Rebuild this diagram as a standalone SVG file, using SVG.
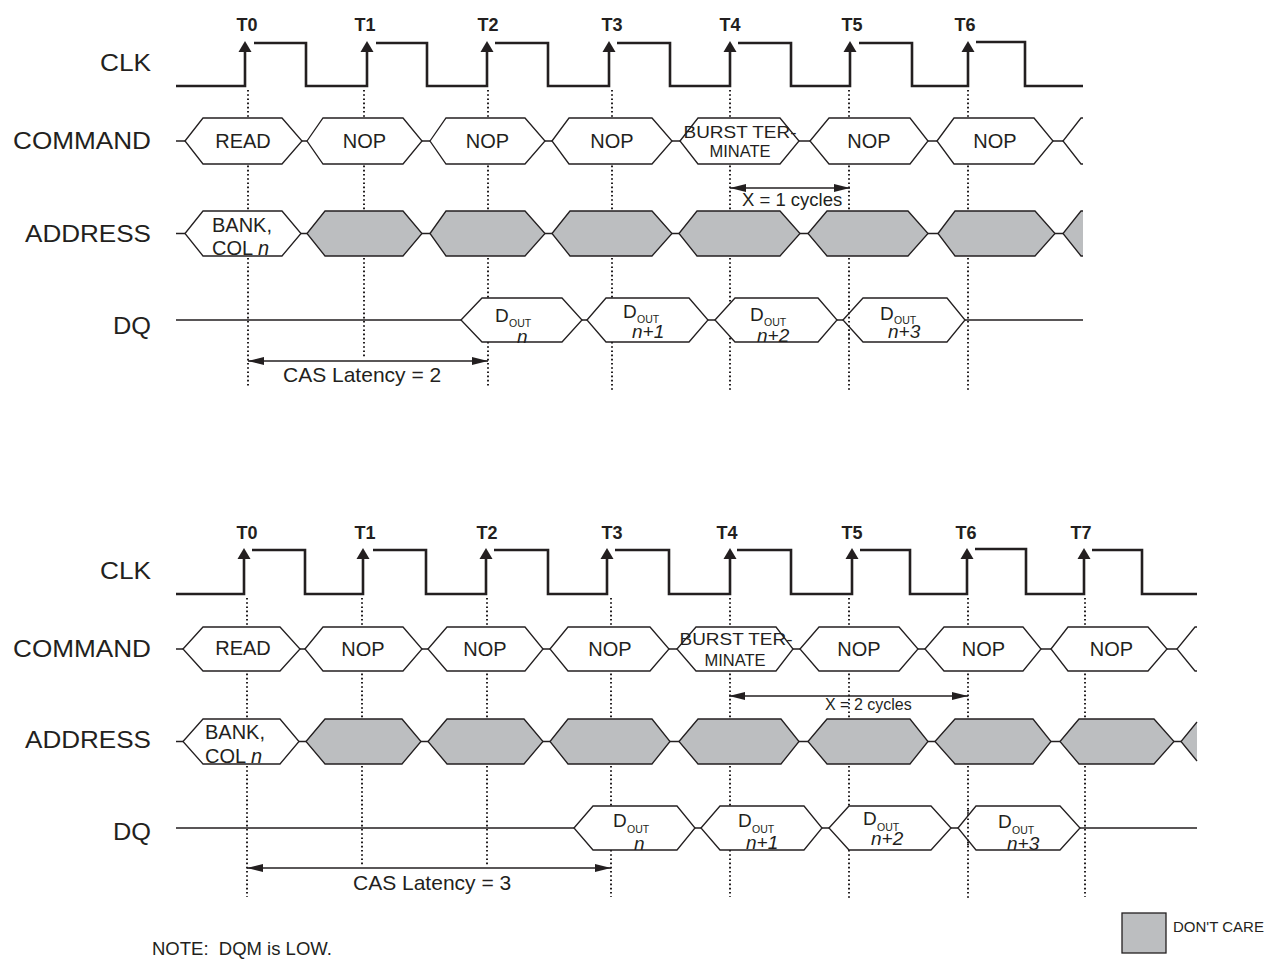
<svg xmlns="http://www.w3.org/2000/svg" width="1278" height="959" viewBox="0 0 1278 959">
<style>
text{font-family:"Liberation Sans",Arial,Helvetica,sans-serif;fill:#231f20}
.lbl{font-size:24px;text-anchor:end}
.tl{font-size:18px;font-weight:bold;text-anchor:middle}
.ht{font-size:20px;text-anchor:middle}
.bt{font-size:16.5px;text-anchor:middle}
.al{font-size:20px}
.d{font-size:19px}
.o{font-size:10.5px}
.ni{font-size:19px;font-style:italic}
.clk{fill:none;stroke:#231f20;stroke-width:2.6}
.hx{fill:#fff;stroke:#231f20;stroke-width:1.3}
.gx{fill:#bcbec0;stroke:#231f20;stroke-width:1.3}
.ln{fill:none;stroke:#231f20;stroke-width:1.3}
.dot{fill:none;stroke:#231f20;stroke-width:2;stroke-dasharray:1.6 2.6}
.arw{fill:none;stroke:#231f20;stroke-width:1.5;marker-start:url(#ah);marker-end:url(#ah)}
</style>
<defs>
<marker id="ah" viewBox="0 0 16 8" refX="16" refY="4" markerWidth="16" markerHeight="8" markerUnits="userSpaceOnUse" orient="auto-start-reverse"><path d="M0,0 L16,4 L0,8 Z" fill="#231f20"/></marker>
<path id="ca" d="M0,0 L-6.5,11 L6.5,11 Z" fill="#231f20"/>
</defs>

<!-- ===== TOP DIAGRAM ===== -->
<g id="top-labels">
<text class="lbl" x="151" y="71" textLength="51" lengthAdjust="spacingAndGlyphs">CLK</text>
<text class="lbl" x="151" y="149" textLength="138" lengthAdjust="spacingAndGlyphs">COMMAND</text>
<text class="lbl" x="151" y="242" textLength="126" lengthAdjust="spacingAndGlyphs">ADDRESS</text>
<text class="lbl" x="151" y="334" textLength="38" lengthAdjust="spacingAndGlyphs">DQ</text>
<text class="tl" x="247" y="31">T0</text>
<text class="tl" x="365" y="31">T1</text>
<text class="tl" x="488" y="31">T2</text>
<text class="tl" x="612" y="31">T3</text>
<text class="tl" x="730" y="31">T4</text>
<text class="tl" x="852" y="31">T5</text>
<text class="tl" x="965" y="31">T6</text>
</g>

<g id="top-connectors">
<path class="dot" d="M248,90 V387 M364,90 V357 M488,90 V388 M612,90 V390 M730,90 V390 M849,90 V390 M968,90 V390"/>
<path class="ln" d="M176,141 H185 M302,141 H307 M422,141 H430 M545,141 H552 M672,141 H680 M799,141 H810 M928,141 H937 M1053,141 H1063"/>
<path class="ln" d="M176,233.5 H185 M301,233.5 H307 M422,233.5 H430 M545,233.5 H552 M672,233.5 H679 M800,233.5 H808 M928,233.5 H938 M1055,233.5 H1063"/>
<path class="ln" d="M176,320 H461 M582,320 H587 M708,320 H715 M837,320 H843 M965,320 H1083"/>
<path class="arw" d="M730,188 H850"/>
<path class="arw" d="M248,361 H488"/>
</g>

<g id="top-clk">
<path class="clk" d="M176,86 H245 V52 M254,43 H306 V86 H367 V52 M376,43 H427 V86 H487 V52 M495,43 H548 V86 H609 V52 M617,43 H670 V86 H730 V52 M738,43 H791 V86 H850 V52 M859,43 H912 V86 H968 V52 M976,42 H1025 V86 H1083"/>
<use href="#ca" x="245" y="41"/><use href="#ca" x="367" y="41"/><use href="#ca" x="487" y="41"/><use href="#ca" x="609" y="41"/><use href="#ca" x="730" y="41"/><use href="#ca" x="850" y="41"/><use href="#ca" x="968" y="41"/>
</g>

<g id="top-cmd-read"><polygon class="hx" points="185,141 203,118 282,118 302,141 282,164 203,164"/><text class="ht" x="243" y="148">READ</text></g>
<g id="top-cmd-nop1"><polygon class="hx" points="307,141 323,118 403,118 422,141 403,164 323,164"/><text class="ht" x="364.5" y="148">NOP</text></g>
<g id="top-cmd-nop2"><polygon class="hx" points="430,141 446,118 525,118 545,141 525,164 446,164"/><text class="ht" x="487.5" y="148">NOP</text></g>
<g id="top-cmd-nop3"><polygon class="hx" points="552,141 569,118 652,118 672,141 652,164 569,164"/><text class="ht" x="612" y="148">NOP</text></g>
<g id="top-cmd-burst"><polygon class="hx" points="680,141 698,118 780,118 799,141 780,164 698,164"/><text class="bt" x="740" y="138" textLength="113" lengthAdjust="spacingAndGlyphs">BURST TER-</text><text class="bt" x="740" y="157">MINATE</text></g>
<g id="top-cmd-nop5"><polygon class="hx" points="810,141 829,118 910,118 928,141 910,164 829,164"/><text class="ht" x="869" y="148">NOP</text></g>
<g id="top-cmd-nop6"><polygon class="hx" points="937,141 954,118 1034,118 1053,141 1034,164 954,164"/><text class="ht" x="995" y="148">NOP</text></g>
<g id="top-cmd-next"><polyline class="ln" points="1083,118 1081,118 1063,141 1081,164 1083,164"/></g>

<g id="top-addr-bank"><polygon class="hx" points="185,233.5 203,211 282,211 301,233.5 282,256 203,256"/><text class="al" x="212" y="232">BANK,</text><text class="al" x="212" y="255">COL <tspan font-style="italic">n</tspan></text></g>
<g id="top-addr-x1"><polygon class="gx" points="307,233.5 325,211 403,211 422,233.5 403,256 325,256"/></g>
<g id="top-addr-x2"><polygon class="gx" points="430,233.5 446,211 525,211 545,233.5 525,256 446,256"/></g>
<g id="top-addr-x3"><polygon class="gx" points="552,233.5 570,211 652,211 672,233.5 652,256 570,256"/></g>
<g id="top-addr-x4"><polygon class="gx" points="679,233.5 697,211 780,211 800,233.5 780,256 697,256"/></g>
<g id="top-addr-x5"><polygon class="gx" points="808,233.5 827,211 908,211 928,233.5 908,256 827,256"/></g>
<g id="top-addr-x6"><polygon class="gx" points="938,233.5 955,211 1035,211 1055,233.5 1035,256 955,256"/></g>
<g id="top-addr-next"><polygon fill="#bcbec0" points="1083,211 1081,211 1063,233.5 1081,256 1083,256"/><polyline class="ln" points="1083,211 1081,211 1063,233.5 1081,256 1083,256"/></g>

<g id="top-dq-n"><polygon class="hx" points="461,320 482,298 562,298 582,320 562,342 482,342"/><text class="d" x="495" y="322">D</text><text class="o" x="509" y="327">OUT</text><text class="ni" x="517" y="343">n</text></g>
<g id="top-dq-n1"><polygon class="hx" points="587,320 606,298 689,298 708,320 689,342 606,342"/><text class="d" x="623" y="318">D</text><text class="o" x="637" y="323">OUT</text><text class="ni" x="632" y="338">n+1</text></g>
<g id="top-dq-n2"><polygon class="hx" points="715,320 735,298 818,298 837,320 818,342 735,342"/><text class="d" x="750" y="321">D</text><text class="o" x="764" y="326">OUT</text><text class="ni" x="757" y="342">n+2</text></g>
<g id="top-dq-n3"><polygon class="hx" points="843,320 863,298 947,298 965,320 947,342 863,342"/><text class="d" x="880" y="320">D</text><text class="o" x="894" y="324">OUT</text><text class="ni" x="888" y="338">n+3</text></g>
<path class="dot" d="M849,300 V340"/>

<g id="top-notes">
<text x="742" y="206" font-size="18.5">X = 1 cycles</text>
<text x="283" y="382" font-size="21">CAS Latency = 2</text>
</g>

<!-- ===== BOTTOM DIAGRAM ===== -->
<g id="bot-labels">
<text class="lbl" x="151" y="579" textLength="51" lengthAdjust="spacingAndGlyphs">CLK</text>
<text class="lbl" x="151" y="657" textLength="138" lengthAdjust="spacingAndGlyphs">COMMAND</text>
<text class="lbl" x="151" y="748" textLength="126" lengthAdjust="spacingAndGlyphs">ADDRESS</text>
<text class="lbl" x="151" y="840" textLength="38" lengthAdjust="spacingAndGlyphs">DQ</text>
<text class="tl" x="247" y="539">T0</text>
<text class="tl" x="365" y="539">T1</text>
<text class="tl" x="487" y="539">T2</text>
<text class="tl" x="612" y="539">T3</text>
<text class="tl" x="727" y="539">T4</text>
<text class="tl" x="852" y="539">T5</text>
<text class="tl" x="966" y="539">T6</text>
<text class="tl" x="1081" y="539">T7</text>
</g>

<g id="bot-connectors">
<path class="dot" d="M247,598 V897 M362,598 V866 M487,598 V866 M611,598 V897 M730,598 V897 M849,598 V898 M968,598 V898 M1085,598 V897"/>
<path class="ln" d="M176,649 H183 M300,649 H305 M422,649 H428 M543,649 H550 M669,649 H677 M793,649 H800 M918,649 H925 M1041,649 H1051 M1167,649 H1177"/>
<path class="ln" d="M176,741.5 H183 M299,741.5 H306 M421,741.5 H428 M543,741.5 H550 M670,741.5 H679 M799,741.5 H808 M928,741.5 H935 M1051,741.5 H1060 M1174,741.5 H1181"/>
<path class="ln" d="M176,828 H574 M695,828 H701 M822,828 H829 M951,828 H958 M1080,828 H1197"/>
<path class="arw" d="M729,696 H968"/>
<path class="arw" d="M247,868 H611"/>
</g>

<g id="bot-clk">
<path class="clk" d="M176,594 H244 V559 M252,550 H305 V594 H363 V559 M373,550 H426 V594 H486 V559 M494,550 H548 V594 H607 V559 M615,550 H669 V594 H730 V559 M737,550 H791 V594 H852 V559 M860,550 H910 V594 H967 V559 M975,549 H1026 V594 H1084 V559 M1092,550 H1142 V594 H1197"/>
<use href="#ca" x="244" y="548"/><use href="#ca" x="363" y="548"/><use href="#ca" x="486" y="548"/><use href="#ca" x="607" y="548"/><use href="#ca" x="730" y="548"/><use href="#ca" x="852" y="548"/><use href="#ca" x="967" y="548"/><use href="#ca" x="1084" y="548"/>
</g>

<g id="bot-cmd-read"><polygon class="hx" points="183,649 203,627 280,627 300,649 280,671 203,671"/><text class="ht" x="243" y="655">READ</text></g>
<g id="bot-cmd-nop1"><polygon class="hx" points="305,649 323,627 403,627 422,649 403,671 323,671"/><text class="ht" x="363" y="655.5">NOP</text></g>
<g id="bot-cmd-nop2"><polygon class="hx" points="428,649 447,627 525,627 543,649 525,671 447,671"/><text class="ht" x="485" y="655.5">NOP</text></g>
<g id="bot-cmd-nop3"><polygon class="hx" points="550,649 568,627 650,627 669,649 650,671 568,671"/><text class="ht" x="610" y="655.5">NOP</text></g>
<g id="bot-cmd-burst"><polygon class="hx" points="677,649 696,627 776,627 793,649 776,671 696,671"/><text class="bt" x="736" y="645" textLength="113" lengthAdjust="spacingAndGlyphs">BURST TER-</text><text class="bt" x="735" y="666">MINATE</text></g>
<g id="bot-cmd-nop5"><polygon class="hx" points="800,649 819,627 899,627 918,649 899,671 819,671"/><text class="ht" x="859" y="655.5">NOP</text></g>
<g id="bot-cmd-nop6"><polygon class="hx" points="925,649 944,627 1023,627 1041,649 1023,671 944,671"/><text class="ht" x="983.5" y="655.5">NOP</text></g>
<g id="bot-cmd-nop7"><polygon class="hx" points="1051,649 1068,627 1148,627 1167,649 1148,671 1068,671"/><text class="ht" x="1111.5" y="655.5">NOP</text></g>
<g id="bot-cmd-next"><polyline class="ln" points="1197,627 1195,627 1177,649 1195,671 1197,671"/></g>

<g id="bot-addr-bank"><polygon class="hx" points="183,741.5 203,719 280,719 299,741.5 280,764 203,764"/><text class="al" x="205" y="739">BANK,</text><text class="al" x="205" y="763">COL <tspan font-style="italic">n</tspan></text></g>
<g id="bot-addr-x1"><polygon class="gx" points="306,741.5 325,719 402,719 421,741.5 402,764 325,764"/></g>
<g id="bot-addr-x2"><polygon class="gx" points="428,741.5 447,719 524,719 543,741.5 524,764 447,764"/></g>
<g id="bot-addr-x3"><polygon class="gx" points="550,741.5 568,719 652,719 670,741.5 652,764 568,764"/></g>
<g id="bot-addr-x4"><polygon class="gx" points="679,741.5 698,719 781,719 799,741.5 781,764 698,764"/></g>
<g id="bot-addr-x5"><polygon class="gx" points="808,741.5 827,719 910,719 928,741.5 910,764 827,764"/></g>
<g id="bot-addr-x6"><polygon class="gx" points="935,741.5 955,719 1033,719 1051,741.5 1033,764 955,764"/></g>
<g id="bot-addr-x7"><polygon class="gx" points="1060,741.5 1079,719 1154,719 1174,741.5 1154,764 1079,764"/></g>
<g id="bot-addr-next"><polygon fill="#bcbec0" points="1181,741.5 1197,722 1197,761"/><polyline class="ln" points="1197,722 1181,741.5 1197,761"/></g>

<g id="bot-dq-n"><polygon class="hx" points="574,828 593,806 677,806 695,828 677,850 593,850"/><text class="d" x="613" y="827">D</text><text class="o" x="627" y="833">OUT</text><text class="ni" x="634" y="850">n</text></g>
<g id="bot-dq-n1"><polygon class="hx" points="701,828 720,806 804,806 822,828 804,850 720,850"/><text class="d" x="738" y="827">D</text><text class="o" x="752" y="833">OUT</text><text class="ni" x="746" y="849">n+1</text></g>
<g id="bot-dq-n2"><polygon class="hx" points="829,828 849,806 931,806 951,828 931,850 849,850"/><text class="d" x="863" y="825">D</text><text class="o" x="877" y="831">OUT</text><text class="ni" x="871" y="845">n+2</text></g>
<g id="bot-dq-n3"><polygon class="hx" points="958,828 976,806 1060,806 1080,828 1060,850 976,850"/><text class="d" x="998" y="828">D</text><text class="o" x="1012" y="834">OUT</text><text class="ni" x="1007" y="850">n+3</text></g>
<path class="dot" d="M968,810 V846"/>

<g id="bot-notes">
<text x="825" y="710" font-size="16">X = 2 cycles</text>
<text x="353" y="890" font-size="21">CAS Latency = 3</text>
</g>

<g id="legend">
<rect x="1122" y="913" width="44" height="40" fill="#bcbec0" stroke="#231f20" stroke-width="1.3"/>
<text x="1173" y="932" font-size="15">DON'T CARE</text>
</g>
<text x="152" y="955" font-size="18.5" xml:space="preserve">NOTE:  DQM is LOW.</text>
</svg>
